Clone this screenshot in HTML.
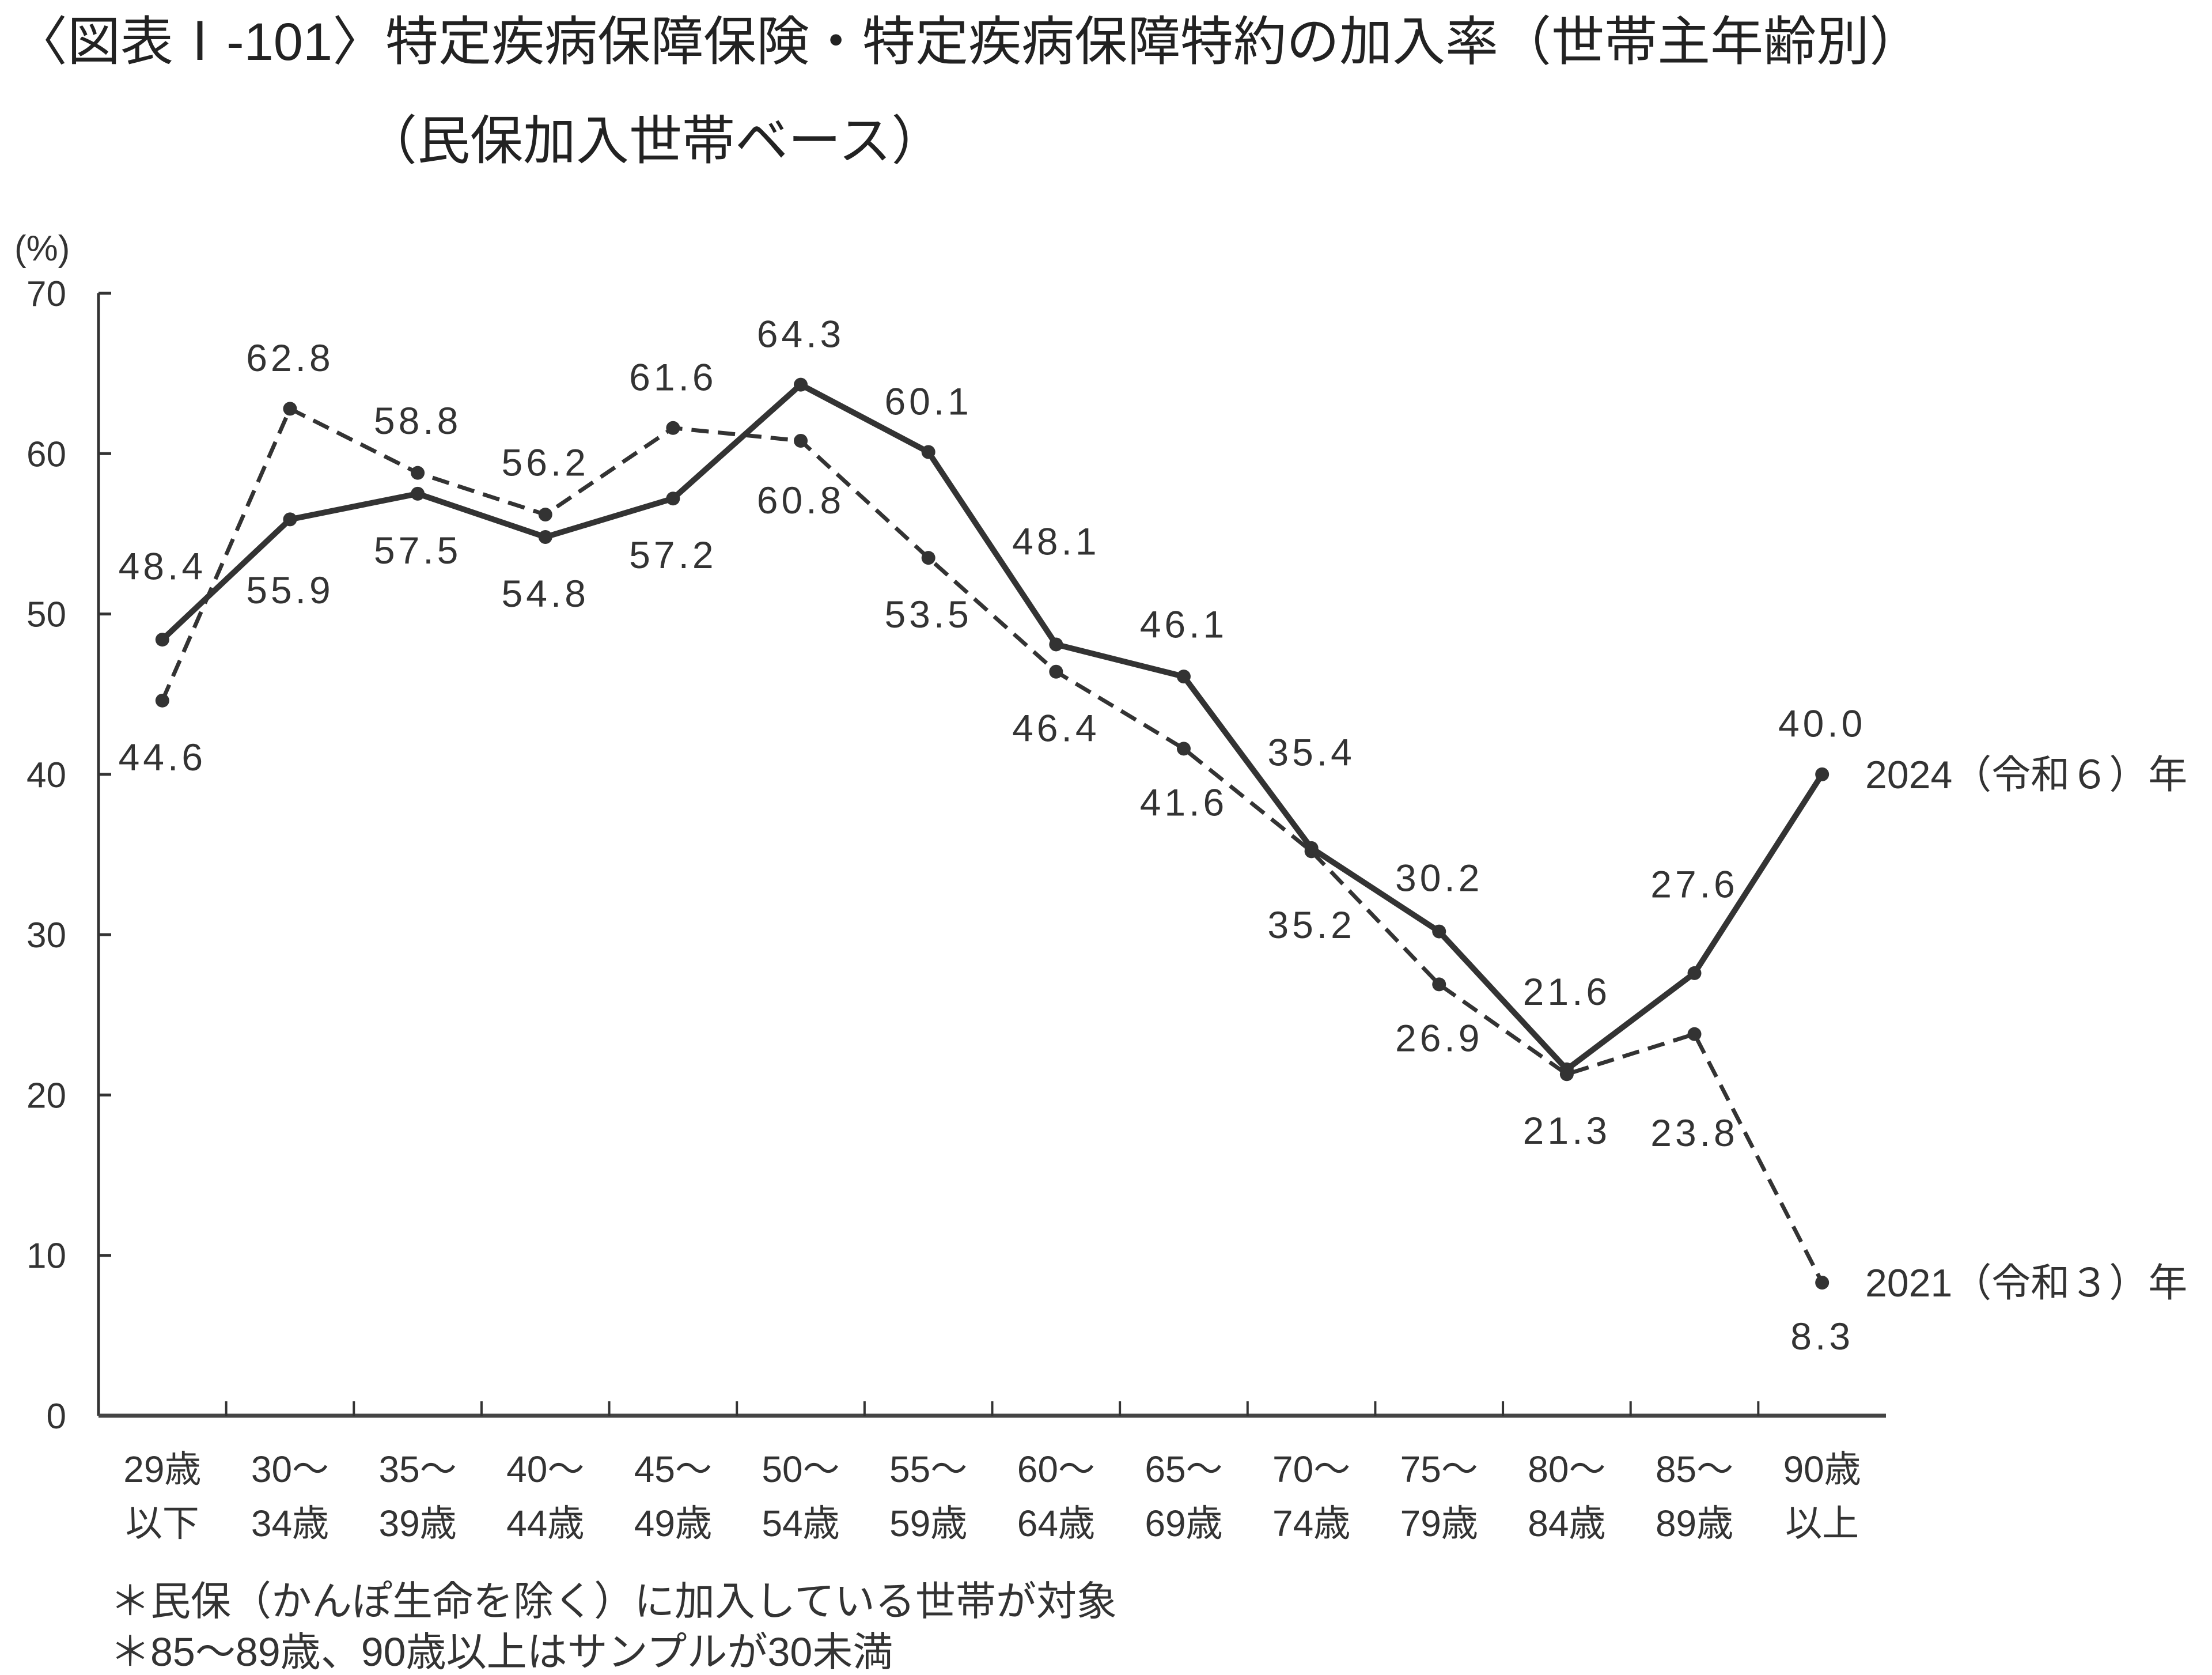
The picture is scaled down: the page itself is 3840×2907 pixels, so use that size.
<!DOCTYPE html>
<html><head><meta charset="utf-8"><style>
html,body{margin:0;padding:0;background:#fff;}
svg{display:block;font-family:"Liberation Sans","Noto Sans CJK JP",sans-serif;fill:#333;}
</style></head><body>
<svg id="chart" width="3840" height="2907" viewBox="0 0 3840 2907" xmlns="http://www.w3.org/2000/svg">
<text x="25" y="104" font-size="92" fill="#222">〈図表Ⅰ-101〉特定疾病保障保険・特定疾病保障特約の加入率（世帯主年齢別）</text>
<text x="632" y="276" font-size="92" fill="#222">（民保加入世帯ベース）</text>
<text x="25" y="452" font-size="62">(%)</text>
<g id="axes"></g>
<g id="series"></g>
<text x="191" y="2803" font-size="70">＊民保（かんぽ生命を除く）に加入している世帯が対象</text>
<text x="191" y="2891" font-size="70">＊85～89歳、90歳以上はサンプルが30未満</text>
</svg>
<script>
const categoriesTop = ["29歳","30～","35～","40～","45～","50～","55～","60～","65～","70～","75～","80～","85～","90歳"];
const categoriesBottom = ["以下","34歳","39歳","44歳","49歳","54歳","59歳","64歳","69歳","74歳","79歳","84歳","89歳","以上"];
const values2024 = [48.4,55.9,57.5,54.8,57.2,64.3,60.1,48.1,46.1,35.4,30.2,21.6,27.6,40.0];
const values2021 = [44.6,62.8,58.8,56.2,61.6,60.8,53.5,46.4,41.6,35.2,26.9,21.3,23.8,8.3];
const yTicks = [0,10,20,30,40,50,60,70];
const label2024Offset = [-52,50,40,40,40,-36,-36,-73,-37,-68,-38,-55,-63,-36];
const label2021Offset = [40,-36,-37,-37,-36,42,40,40,38,52,38,40,70,38];

const NS="http://www.w3.org/2000/svg";
const X0=171, X1=3274, Y0=2457, Y70=509, SC=2.449;
const step=(X1-X0)/categoriesTop.length;
const xs=i=>X0+step*(i+0.5);
const ys=v=>Y0-(v/70)*(Y0-Y70);
function mk(tag,attrs,parent){const e=document.createElementNS(NS,tag);for(const k in attrs)e.setAttribute(k,attrs[k]);parent.appendChild(e);return e;}
const axes=document.getElementById('axes');
const series=document.getElementById('series');

let e=mk('line',{x1:X0,y1:Y70,x2:X0,y2:Y0,stroke:'#333','stroke-width':5},axes);


e=mk('line',{x1:X0,y1:Y0,x2:X1,y2:Y0,stroke:'#444','stroke-width':7},axes);


yTicks.forEach(t=>{
  const y=ys(t);
  if(t>0){const tk=mk('line',{x1:X0,y1:y,x2:X0+22,y2:y,stroke:'#333','stroke-width':5},axes);
  
  }
  const tx=mk('text',{x:115,y:y+22,'font-size':62,'text-anchor':'end'},axes);
  tx.textContent=t;
  
  
});
categoriesTop.forEach((c,i)=>{
  if(i>0){const tk=mk('line',{x1:X0+step*i,y1:Y0,x2:X0+step*i,y2:Y0-25,stroke:'#333','stroke-width':4},axes);
  
  }
  const t1=mk('text',{x:xs(i),y:2572,'font-size':64,'text-anchor':'middle'},axes);
  t1.textContent=c;
  
  
  const t2=mk('text',{x:xs(i),y:2666,'font-size':64,'text-anchor':'middle'},axes);
  t2.textContent=categoriesBottom[i];
  
  
});
function drawSeries(vals,offs,name,dash,width,legend){
  const pts=vals.map((v,i)=>xs(i)+','+ys(v)).join(' ');
  const pl=mk('polyline',{points:pts,fill:'none',stroke:'#333','stroke-width':width,'stroke-linejoin':'round'},series);
  if(dash)pl.setAttribute('stroke-dasharray',dash);
  
  
  vals.forEach((v,i)=>{
    const c=mk('circle',{cx:xs(i),cy:ys(v),r:12,fill:'#333'},series);
    
    
    const t=mk('text',{x:xs(i),y:ys(v)+offs[i]*SC+23,'font-size':66,'text-anchor':'middle','letter-spacing':6},series);
    t.textContent=v.toFixed(1);
    
    
  });
  const n=vals.length-1;
  const lg=mk('text',{x:3238,y:ys(vals[n])+24,'font-size':68},series);
  lg.textContent=legend;
  
  
}
drawSeries(values2021,label2021Offset,'series-2021','30 16',7,'2021（令和３）年');
drawSeries(values2024,label2024Offset,'series-2024',null,10,'2024（令和６）年');
</script>
</body></html>
